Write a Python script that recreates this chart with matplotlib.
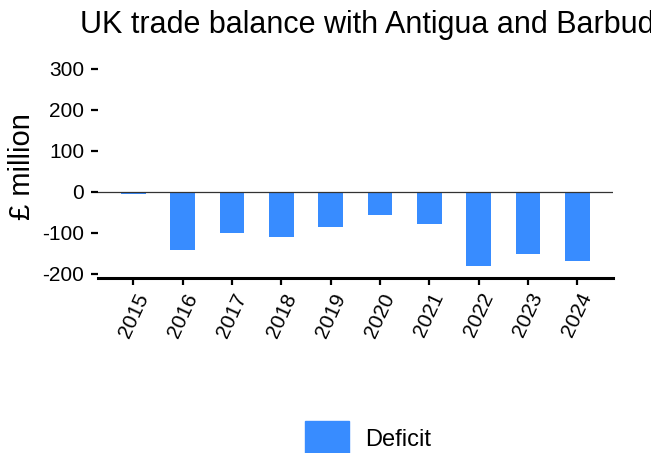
import matplotlib
matplotlib.use("Agg")
import matplotlib.pyplot as plt
from matplotlib.patches import Patch

plt.rcParams['font.family'] = ['Liberation Sans', 'DejaVu Sans']
plt.rcParams['axes.unicode_minus'] = False

years = ['2015', '2016', '2017', '2018', '2019', '2020', '2021', '2022', '2023', '2024']
deficit = [-6, -143, -100, -110, -86, -57, -79, -182, -152, -169]
yticks = [-200, -100, 0, 100, 200, 300]
bar_color = '#388cff'

W, H = 651, 453
fig = plt.figure(figsize=(W / 100, H / 100), dpi=100)
ax = fig.add_axes([98 / W, 1 - 277.6 / H, 514.7 / W, 213.2 / H])

x = list(range(len(years)))
ax.bar(x, deficit, width=0.5, color=bar_color, zorder=2)
ax.axhline(0, color='#333333', linewidth=0.9, zorder=3)

ax.set_xlim(-0.72, len(years) - 1 + 0.72)
ax.set_ylim(-210, 310)
ax.set_yticks(yticks)
ax.set_xticks(x)
ax.set_xticklabels(years, rotation=65)

for s in ['top', 'right', 'left']:
	ax.spines[s].set_visible(False)
ax.spines['bottom'].set_linewidth(2.2)
ax.tick_params(axis='both', labelsize=15, width=1.6, length=5, color='black')
ax.tick_params(axis='y', pad=5)
ax.tick_params(axis='x', pad=4)

ax.set_ylabel('£ million', fontsize=21)
ax.yaxis.set_label_coords(-0.12, 0.52)

# title is wider than the figure in the original, so it runs off the right edge
fig.text(80 / W, 1 - 25 / H, 'UK trade balance with Antigua and Barbuda',
	fontsize=22, ha='left', va='center')

fig.legend(handles=[Patch(color=bar_color, label='Deficit')], loc='upper left',
	bbox_to_anchor=(305 / W, 1 - 421 / H), frameon=False, fontsize=17,
	handlelength=1.85, handleheight=1.9, handletextpad=0.7, borderpad=0, borderaxespad=0)

fig.savefig('out.png', dpi=100)
